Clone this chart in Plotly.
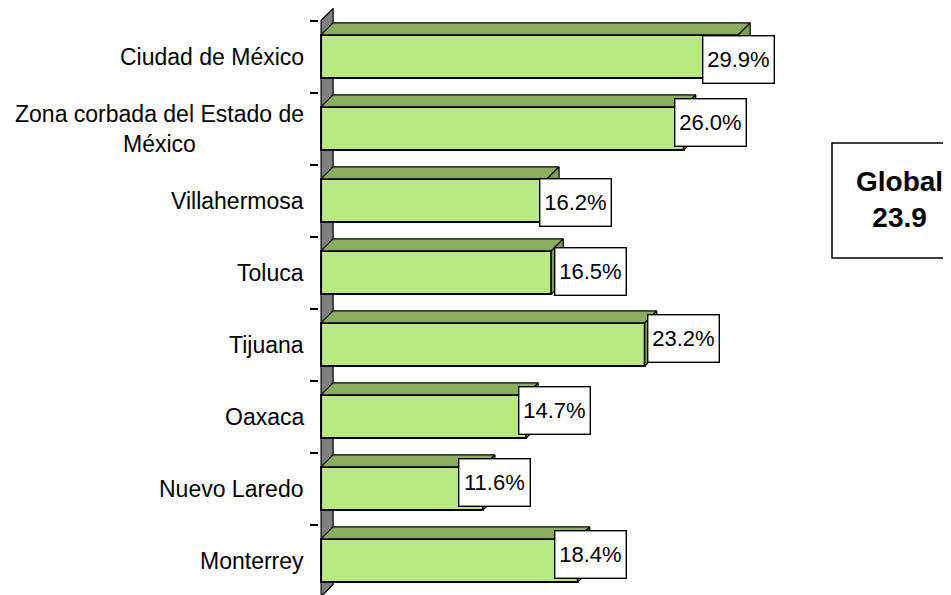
import plotly.graph_objects as go

# ---- data ----
categories = ["Ciudad de México", "Zona corbada del Estado de<br>México", "Villahermosa",
              "Toluca", "Tijuana", "Oaxaca", "Nuevo Laredo", "Monterrey"]
values = [29.9, 26.0, 16.2, 16.5, 23.2, 14.7, 11.6, 18.4]
global_title = "Global"
global_value = 23.9

# ---- geometry / style ----
W, H = 951, 595
PAGE_OFF = 8                # default body margin of the html page
ML, MR, MT, MB = 311, 150, 0, 0
PX_PER_X = 13.95            # pixels per percentage point
PX_PER_Y = 72.0             # pixels per category band
X0 = -0.15
plot_w = W - ML - MR
plot_h = H - MT - MB
X1 = X0 + plot_w / PX_PER_X
Y_TOP = -0.5 - 12.5 / PX_PER_Y
Y_BOT = Y_TOP + plot_h / PX_PER_Y
DEPTH = 12.0
DX = DEPTH / PX_PER_X
DY = DEPTH / PX_PER_Y
HALF = 0.3

FRONT = "#B8E880"
TOP = "#8AAE5C"
SIDE = "#7D9D50"
WALL = "#808080"

pos = list(range(len(categories)))

# polygons for the 3D faces, built from the values
top_x, top_y, side_x, side_y = [], [], [], []
for v, p in zip(values, pos):
    top_x += [0, v, v + DX, DX, 0, None]
    top_y += [p - HALF, p - HALF, p - HALF - DY, p - HALF - DY, p - HALF, None]
    side_x += [v, v + DX, v + DX, v, v, None]
    side_y += [p - HALF, p - HALF - DY, p + HALF - DY, p + HALF, p - HALF, None]

fig = go.Figure()
fig.add_trace(go.Bar(x=values, y=pos, orientation="h", width=2 * HALF,
                     marker=dict(color=FRONT, line=dict(color="black", width=2)),
                     hoverinfo="skip", showlegend=False))
fig.add_trace(go.Scatter(x=top_x, y=top_y, mode="lines", fill="toself", fillcolor=TOP,
                         line=dict(color="black", width=1.2), hoverinfo="skip", showlegend=False))
fig.add_trace(go.Scatter(x=side_x, y=side_y, mode="lines", fill="toself", fillcolor=SIDE,
                         line=dict(color="black", width=1.2), hoverinfo="skip", showlegend=False))

n = len(categories)
wall_path = (f"M 0,{-0.5} L {DX},{-0.5 - DY} L {DX},{n - 0.5 - DY} "
             f"L 0,{n - 0.5} Z")
fig.add_shape(type="path", path=wall_path, xref="x", yref="y", layer="below",
              fillcolor=WALL, line=dict(color="black", width=1.2))

# category labels
for c, p in zip(categories, pos):
    fig.add_annotation(text=c, xref="paper", x=0, xanchor="right", xshift=-13,
                       yref="y", y=p, yanchor="middle", showarrow=False, align="center",
                       font=dict(family="Liberation Sans, Arial", size=23, color="black"))

# value labels
label_xshift = [0, 27, 28, 39, 39, 28, 12, 13]
label_yshift = [-2.5, 6.5, -1.5, 1, 6.5, 6.5, 6.5, 6.5]
for v, p, xs, ys in zip(values, pos, label_xshift, label_yshift):
    fig.add_annotation(text=f"{v:.1f}%", xref="x", x=v, yref="y", y=p,
                       xshift=xs, yshift=ys, showarrow=False,
                       bgcolor="white", bordercolor="black", borderwidth=1.4, borderpad=3,
                       width=64, height=40,
                       font=dict(family="Liberation Sans, Arial", size=22, color="black"))

# Global box (positions given in page pixels)
def px_to_paper_x(px):
    return (px - PAGE_OFF - ML) / plot_w

def py_to_paper_y(py):
    return (PAGE_OFF + H - MB - py) / plot_h

fig.add_shape(type="rect", xref="paper", yref="paper",
              x0=px_to_paper_x(832), x1=px_to_paper_x(968),
              y0=py_to_paper_y(258), y1=py_to_paper_y(143),
              line=dict(color="black", width=1.5), fillcolor="white")
fig.add_annotation(text=f"<b>{global_title}</b><br><b>{global_value:.1f}</b>",
                   xref="paper", yref="paper", x=px_to_paper_x(899), y=py_to_paper_y(200),
                   xanchor="center", yanchor="middle", showarrow=False, align="center",
                   font=dict(family="Liberation Sans, Arial", size=28, color="black"))

fig.update_layout(
    width=W, height=H,
    margin=dict(l=ML, r=MR, t=MT, b=MB, pad=0),
    paper_bgcolor="white", plot_bgcolor="white",
    xaxis=dict(range=[X0, X1], showgrid=False, zeroline=False, showticklabels=False,
               showline=False, ticks="", fixedrange=True),
    yaxis=dict(range=[Y_BOT, Y_TOP], showgrid=False, zeroline=False, showticklabels=False,
               showline=False, ticks="", tickmode="array", tickvals=pos,
               minor=dict(ticks="outside", ticklen=8, tickwidth=1.5, tickcolor="black",
                          tickmode="array", tickvals=[k - 0.5 for k in range(n + 1)],
                          showgrid=False),
               fixedrange=True),
    bargap=0.4,
    showlegend=False,
)

fig.write_html("out.html")
